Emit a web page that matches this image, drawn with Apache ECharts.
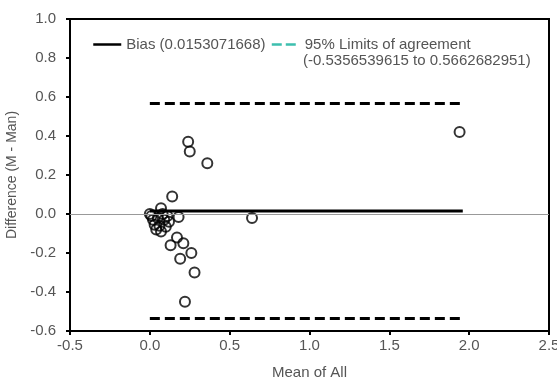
<!DOCTYPE html>
<html>
<head>
<meta charset="utf-8">
<script src="https://cdn.jsdelivr.net/npm/echarts@6/dist/echarts.min.js"></script>
<style>
  html, body { margin: 0; padding: 0; background: #fff; }
  #main { width: 557px; height: 379px; }
</style>
</head>
<body>
<div id="main"></div>
<script>
var chartDom = document.getElementById('main');
var myChart = echarts.init(chartDom);
var option;

// mean of the two methods vs. their difference
let meanAll = [1.94, 0.24, 0.25, 0.36, 0.14, 0.64, 0.18, 0.00, 0.07, 0.08, 0.02, 0.01, 0.04,
               0.10, 0.12, 0.03, 0.07, 0.05, 0.09, 0.06, 0.11, 0.13, 0.17, 0.21, 0.26, 0.19, 0.28, 0.22];
let diffs = [0.42, 0.37, 0.32, 0.26, 0.09, -0.02, -0.015, 0.00, 0.03, 0.00, -0.03, -0.01, -0.08,
             -0.065, -0.04, -0.055, -0.09, -0.02, -0.03, -0.06, -0.01, -0.16, -0.12, -0.15, -0.20, -0.23, -0.30, -0.45];

let bias = 0.0153071668;
let lowerLimit = -0.5356539615;
let upperLimit = 0.5662682951;
let lineSpan = [0, 1.96];

let biasName = 'Bias (0.0153071668)';
let limitsName = '95% Limits of agreement';
let limitsRange = '(-0.5356539615 to 0.5662682951)';

let points = meanAll.map(function(m, i) { return [m, diffs[i]]; });

let font = 'Liberation Sans';
let labelStyle = { color: '#555', fontSize: 15, fontFamily: font };

option = {
    animation: false,
    grid: {
        left: 70, right: 8, top: 19, bottom: 48,
        outerBoundsMode: 'none', containLabel: false,
        show: true, borderColor: '#000', borderWidth: 2
    },
    legend: {
        type: 'plain', orient: 'horizontal',
        left: 92, top: 37, right: 'auto', bottom: 'auto',
        padding: 0,
        itemWidth: 28, itemHeight: 10, itemGap: 5,
        textStyle: { color: '#555', fontSize: 15, fontFamily: font },
        data: [{
            name: biasName,
            itemStyle: { opacity: 0 },
            lineStyle: { color: '#000', width: 2.5, type: 'solid' }
        }, {
            name: limitsName,
            itemStyle: { opacity: 0 },
            lineStyle: { color: '#3dbfae', width: 2.5, type: [10, 4] }
        }]
    },
    graphic: [{
        type: 'text',
        left: 303, top: 53,
        style: { text: limitsRange, fill: '#555', fontSize: 15, fontFamily: font }
    }],
    xAxis: {
        type: 'value', min: -0.5, max: 2.5, interval: 0.5,
        name: 'Mean of All', nameLocation: 'middle', nameGap: 34,
        nameTextStyle: labelStyle,
        axisLine: { onZero: false, lineStyle: { color: '#000', width: 2 } },
        axisTick: { length: 4, lineStyle: { color: '#000', width: 2 } },
        axisLabel: Object.assign({ margin: 7, formatter: function(v) { return v.toFixed(1); } }, labelStyle),
        splitLine: { show: false }
    },
    yAxis: {
        type: 'value', min: -0.6, max: 1.0, interval: 0.2,
        name: 'Difference (M - Man)', nameLocation: 'middle', nameGap: 50,
        nameTextStyle: Object.assign({}, labelStyle, { fontSize: 14 }),
        axisLine: { onZero: false, lineStyle: { color: '#000', width: 2 } },
        axisTick: { length: 4, lineStyle: { color: '#000', width: 2 } },
        axisLabel: Object.assign({ margin: 14, formatter: function(v) { return v.toFixed(1); } }, labelStyle),
        splitLine: { show: false }
    },
    series: [{
        name: biasName,
        type: 'line',
        symbol: 'none',
        data: [[lineSpan[0], bias], [lineSpan[1], bias]],
        lineStyle: { color: '#000', width: 3 },
        markLine: {
            silent: true, symbol: 'none', label: { show: false },
            lineStyle: { color: '#999', width: 1, type: 'solid' },
            data: [{ yAxis: 0 }]
        },
        z: 3
    }, {
        name: limitsName,
        type: 'line',
        symbol: 'none',
        connectNulls: false,
        data: [[lineSpan[0], upperLimit], [lineSpan[1], upperLimit], null,
               [lineSpan[0], lowerLimit], [lineSpan[1], lowerLimit]],
        lineStyle: { color: '#000', width: 3, type: [10, 5] },
        z: 3
    }, {
        name: 'Data',
        type: 'scatter',
        symbol: 'circle',
        symbolSize: 10,
        data: points,
        itemStyle: { color: 'rgba(0,0,0,0)', borderColor: '#000', borderWidth: 2 },
        z: 4
    }]
};

option && myChart.setOption(option);
</script>
</body>
</html>
